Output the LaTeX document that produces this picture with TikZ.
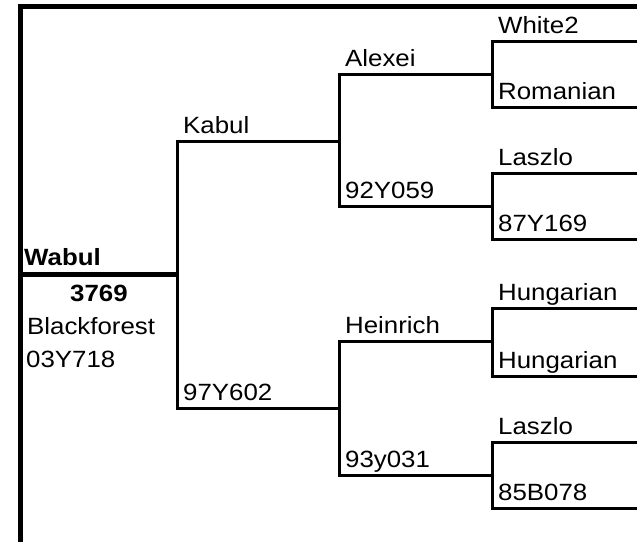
\documentclass[tikz,border=0pt]{standalone}
\usepackage{fontspec}
\setmainfont{Liberation Sans}[FakeStretch=1.1]
\usetikzlibrary{calc}
\tikzset{
  lbl/.style={anchor=base west, inner sep=0pt, font=\fontsize{23.5}{28}\selectfont},
  frm/.style={line width=5pt},
  brl/.style={line width=3pt}
}
% #1 name, #2 x of bracket, #3 x end, #4 y mid, #5 half height, #6 upper text, #7 lower text
\newcommand{\pbr}[7]{%
  \coordinate (#1u) at (#2,{#4-#5});
  \coordinate (#1d) at (#2,{#4+#5});
  \coordinate (#1ue) at (#3,{#4-#5});
  \coordinate (#1de) at (#3,{#4+#5});
  \draw[brl] (#1ue) -- (#1u) -- (#1d) -- (#1de);
  \node[lbl] (#1ut) at ($(#1u)+(6,-8)$) {#6};
  \node[lbl] (#1dt) at ($(#1d)+(6,-8)$) {#7};}

\begin{document}
\begin{tikzpicture}[x=1pt,y=-1pt]
\useasboundingbox (0,0) rectangle (637,541);
% frame
\coordinate (fb) at (20,545);
\coordinate (fc) at (20,6.5);
\coordinate (fr) at (640,6.5);
\draw[frm] (fb) -- (fc) -- (fr);
% subject
\coordinate (sw) at (20,274);
\coordinate (se) at (177,274);
\draw[frm] (sw) -- (se);
\node[lbl, font=\fontsize{23.5}{28}\selectfont\bfseries] (wabul) at (24,265) {Wabul};
\node[lbl, anchor=base, font=\fontsize{23.5}{28}\selectfont\bfseries] (reg) at (99,301) {3769};
\node[lbl] (breed) at (27,334) {Blackforest};
\node[lbl] (code) at (26,367) {03Y718};
% parents
\pbr{p}{177}{339}{274.5}{133.5}{Kabul}{97Y602}
% grandparents
\pbr{gs}{339}{492}{140}{66}{Alexei}{92Y059}
\pbr{gd}{339}{492}{408}{67}{Heinrich}{93y031}
% great-grandparents
\pbr{ga}{492}{640}{74}{33}{White2}{Romanian}
\pbr{gb}{492}{640}{206}{33}{Laszlo}{87Y169}
\pbr{gc}{492}{640}{342}{34}{Hungarian}{Hungarian}
\pbr{ge}{492}{640}{475}{33}{Laszlo}{85B078}
\end{tikzpicture}
\end{document}
